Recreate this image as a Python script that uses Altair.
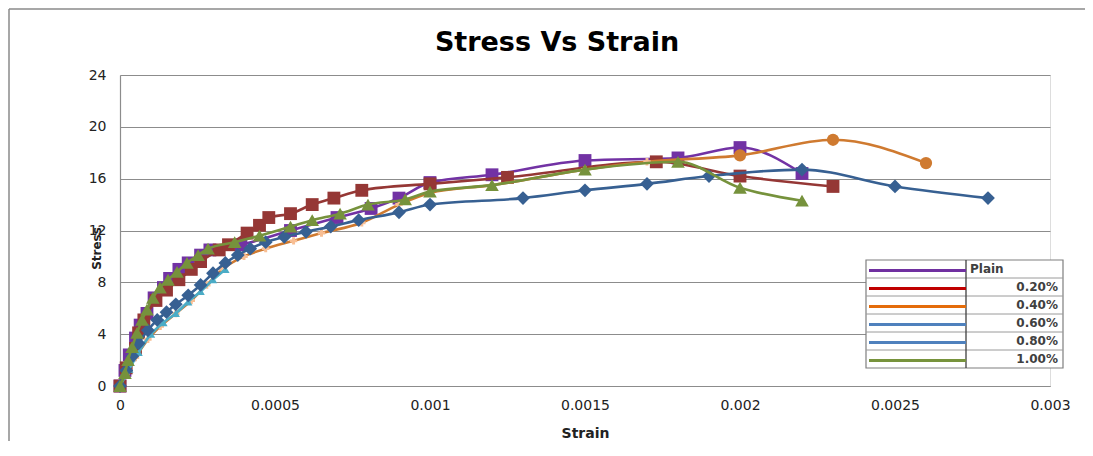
import altair as alt
import pandas as pd

# ---------------- data ----------------
plain_strain = [0, 0.000016, 0.00003, 0.00005, 0.000065, 0.000087, 0.00011, 0.00014, 0.00016,
                0.00019, 0.00022, 0.00026, 0.00029, 0.00039, 0.00055, 0.0007, 0.00081, 0.0009,
                0.001, 0.0012, 0.0015, 0.0018, 0.002, 0.0022]
plain_stress = [0, 1.2, 2.4, 3.7, 4.7, 5.6, 6.8, 7.6, 8.3, 9.0, 9.5, 10.1, 10.5, 10.9, 12.0,
                13.0, 13.7, 14.5, 15.7, 16.3, 17.4, 17.6, 18.4, 16.4]

p020_strain = [0, 0.00002, 0.00005, 0.00006, 0.000077, 0.000116, 0.00015, 0.00019, 0.00023,
               0.00026, 0.00032, 0.00035, 0.00041, 0.00045, 0.00048, 0.00055, 0.00062, 0.00069,
               0.00078, 0.001, 0.00125, 0.00173, 0.002, 0.0023]
p020_stress = [0, 1.4, 2.9, 4.1, 5.1, 6.6, 7.4, 8.2, 9.0, 9.6, 10.5, 10.9, 11.8, 12.4, 13.0,
               13.3, 14.0, 14.5, 15.1, 15.6, 16.1, 17.3, 16.2, 15.4]

p040_strain = [0, 0.00002, 0.00005, 0.00009, 0.00013, 0.00018, 0.00023, 0.00028, 0.00033,
               0.0004, 0.00047, 0.00056, 0.00065, 0.00078, 0.0009, 0.001, 0.0012, 0.0015,
               0.0017, 0.002, 0.0023, 0.0026]
p040_stress = [0, 1.0, 2.2, 3.6, 4.6, 5.6, 6.6, 7.8, 9.0, 10.0, 10.6, 11.2, 11.8, 12.6, 14.0,
               14.9, 15.5, 16.7, 17.3, 17.8, 19.0, 17.2]

p060_strain = [0, 0.00003, 0.00006, 0.0001, 0.00014, 0.00018, 0.00022, 0.00026, 0.0003, 0.00034]
p060_stress = [0, 1.3, 2.6, 4.0, 4.9, 5.6, 6.5, 7.3, 8.2, 9.0]

p080_strain = [0, 0.00002, 0.00004, 0.00006, 0.00009, 0.00012, 0.00015, 0.00018, 0.00022,
               0.00026, 0.0003, 0.00034, 0.00038, 0.00042, 0.00047, 0.00053, 0.0006, 0.00068,
               0.00077, 0.0009, 0.001, 0.0013, 0.0015, 0.0017, 0.0019, 0.0022, 0.0025, 0.0028]
p080_stress = [0, 1.2, 2.3, 3.3, 4.3, 5.1, 5.7, 6.3, 7.0, 7.8, 8.7, 9.5, 10.1, 10.6, 11.1,
               11.5, 11.9, 12.3, 12.8, 13.4, 14.0, 14.5, 15.1, 15.6, 16.2, 16.7, 15.4, 14.5]

p100_strain = [0, 0.000016, 0.000026, 0.000039, 0.000055, 0.000071, 0.000087, 0.000106,
               0.000129, 0.000155, 0.000184, 0.000216, 0.000252, 0.000284, 0.00037, 0.00045,
               0.00055, 0.00062, 0.00071, 0.0008, 0.00092, 0.001, 0.0012, 0.0015, 0.0018,
               0.002, 0.0022]
p100_stress = [0, 1.0, 2.0, 3.0, 4.1, 5.1, 5.9, 6.8, 7.6, 8.2, 8.8, 9.5, 10.1, 10.6, 11.1,
               11.6, 12.3, 12.8, 13.3, 14.0, 14.4, 15.0, 15.5, 16.7, 17.3, 15.3, 14.3]

legend_labels = ["Plain", "0.20%", "0.40%", "0.60%", "0.80%", "1.00%"]
legend_colors = ["#7030A0", "#C00000", "#E46C0A", "#4F81BD", "#4F81BD", "#77933C"]

chart_title = "Stress Vs Strain"
x_ticks = [0, 0.0005, 0.001, 0.0015, 0.002, 0.0025, 0.003]
y_ticks = [0, 4, 8, 12, 16, 20, 24]

# ---------------- styling ----------------
FONT = "DejaVu Sans"
GRID = "#8c8c8c"

series = [
    # name, strain, stress, color, shape, size
    ("Plain", plain_strain, plain_stress, "#7232A4", "square", 165),
    ("0.20%", p020_strain, p020_stress, "#953735", "square", 165),
    ("0.40%", p040_strain, p040_stress, "#CF7A30", "circle", 150),
    ("0.60%", p060_strain, p060_stress, "#4BACC6", "triangle-up", 70),
    ("0.80%", p080_strain, p080_stress, "#376092", "diamond", 190),
    ("1.00%", p100_strain, p100_stress, "#76923C", "triangle-up", 185),
]

x_enc = alt.X("strain:Q", scale=alt.Scale(domain=[0, 0.003], nice=False),
              axis=alt.Axis(values=x_ticks, format="~g", grid=False, ticks=False,
                            labelFlush=False,
                            domainColor=GRID, domainWidth=1.2,
                            labelFont=FONT, labelFontSize=14, labelColor="#222",
                            labelPadding=12, title="Strain", titleFont=FONT,
                            titleFontSize=14, titleFontWeight="bold", titleColor="#222",
                            titleBaseline="alphabetic", titleY=51))
y_enc = alt.Y("stress:Q", scale=alt.Scale(domain=[0, 24], nice=False),
              axis=alt.Axis(values=y_ticks, grid=True, gridColor=GRID, gridWidth=1.2,
                            ticks=False, domainColor=GRID, domainWidth=1.2,
                            labelFlush=False,
                            labelFont=FONT, labelFontSize=14, labelColor="#222",
                            labelPadding=14, title="Stress", titleFont=FONT,
                            titleFontSize=12, titleFontWeight="bold", titleColor="#222",
                            titleAngle=270, titleX=-24, titleY=173,
                            titleAlign="center", titleBaseline="middle"))

layers = []
for name, xs, ys, col, shape, size in series:
    df = pd.DataFrame({"strain": xs, "stress": ys})
    base = alt.Chart(df)
    layers.append(base.mark_line(color=col, strokeWidth=2.6, interpolate="monotone")
                  .encode(x=x_enc, y=y_enc))
    if name == "0.40%":
        layers.append(base.mark_point(shape="cross", filled=True, size=55, color="#F8BE93",
                                      opacity=1)
                      .transform_filter("datum.strain < 0.0019")
                      .encode(x=x_enc, y=y_enc))
        layers.append(base.mark_point(shape=shape, filled=True, size=size, color=col, opacity=1)
                      .transform_filter("datum.strain >= 0.0019")
                      .encode(x=x_enc, y=y_enc))
    else:
        layers.append(base.mark_point(shape=shape, filled=True, size=size, color=col, opacity=1)
                      .encode(x=x_enc, y=y_enc))

main = alt.layer(*layers)

# ---------------- custom table legend ----------------
leg_df = pd.DataFrame({"idx": list(range(len(legend_labels))),
                       "label": legend_labels, "color": legend_colors})
leg_y = alt.Scale(domain=[0, 6], range=[185, 293], nice=False, zero=False)
lb = alt.Chart(leg_df)
one = pd.DataFrame({"a": [0]})

leg_box = alt.Chart(one).mark_rect(
    fill="white", stroke="#7f7f7f", strokeWidth=1.2).encode(
    x=alt.value(746), x2=alt.value(943), y=alt.value(185), y2=alt.value(293))
leg_sep = lb.mark_rule(color="#9a9a9a", strokeWidth=1).transform_filter(
    "datum.idx > 0").encode(
    x=alt.value(746), x2=alt.value(943), y=alt.Y("idx:Q", scale=leg_y, axis=None))
leg_div = alt.Chart(one).mark_rule(color="#404040", strokeWidth=1.3).encode(
    x=alt.value(846), y=alt.value(185), y2=alt.value(293))
leg_sw = lb.transform_calculate(yy="datum.idx + 0.58").mark_rule(strokeWidth=3).encode(
    x=alt.value(749), x2=alt.value(846), y=alt.Y("yy:Q", scale=leg_y, axis=None),
    color=alt.Color("color:N", scale=None))
leg_txt_r = lb.transform_filter("datum.idx > 0").transform_calculate(
    yy="datum.idx + 0.5").mark_text(
    align="right", baseline="middle", font=FONT, fontSize=12, fontWeight="bold",
    color="#404040").encode(
    x=alt.value(938), y=alt.Y("yy:Q", scale=leg_y, axis=None), text="label:N")
leg_txt_l = lb.transform_filter("datum.idx == 0").transform_calculate(
    yy="datum.idx + 0.5").mark_text(
    align="left", baseline="middle", font=FONT, fontSize=12, fontWeight="bold",
    color="#404040").encode(
    x=alt.value(850), y=alt.Y("yy:Q", scale=leg_y, axis=None), text="label:N")

legend = alt.layer(leg_box, leg_sep, leg_div, leg_sw, leg_txt_r, leg_txt_l)

# chart-area frame: only its top and left edges are inside the picture
border_top = alt.Chart(one).mark_rule(color="#8a8a8a", strokeWidth=1.5).encode(
    x=alt.value(-111), x2=alt.value(1100), y=alt.value(-66))
border_left = alt.Chart(one).mark_rule(color="#8a8a8a", strokeWidth=1.5).encode(
    x=alt.value(-111), y=alt.value(-66), y2=alt.value(600))

title = alt.Chart(pd.DataFrame({"t": [chart_title]})).mark_text(
    font=FONT, fontSize=27, fontWeight="bold", color="#000", align="center",
    baseline="alphabetic").encode(x=alt.value(437), y=alt.value(-24), text="t:N")

chart = alt.layer(border_top, border_left, title, main, legend).resolve_scale(
    x="independent", y="independent"
).properties(
    width=930, height=311,
    autosize=alt.AutoSizeParams(type="none"),
    padding={"left": 112, "top": 67, "right": 35, "bottom": 55},
).configure_view(strokeWidth=0).configure(background="white")

chart.save("out.html", embed_options={"renderer": "svg", "actions": False})
